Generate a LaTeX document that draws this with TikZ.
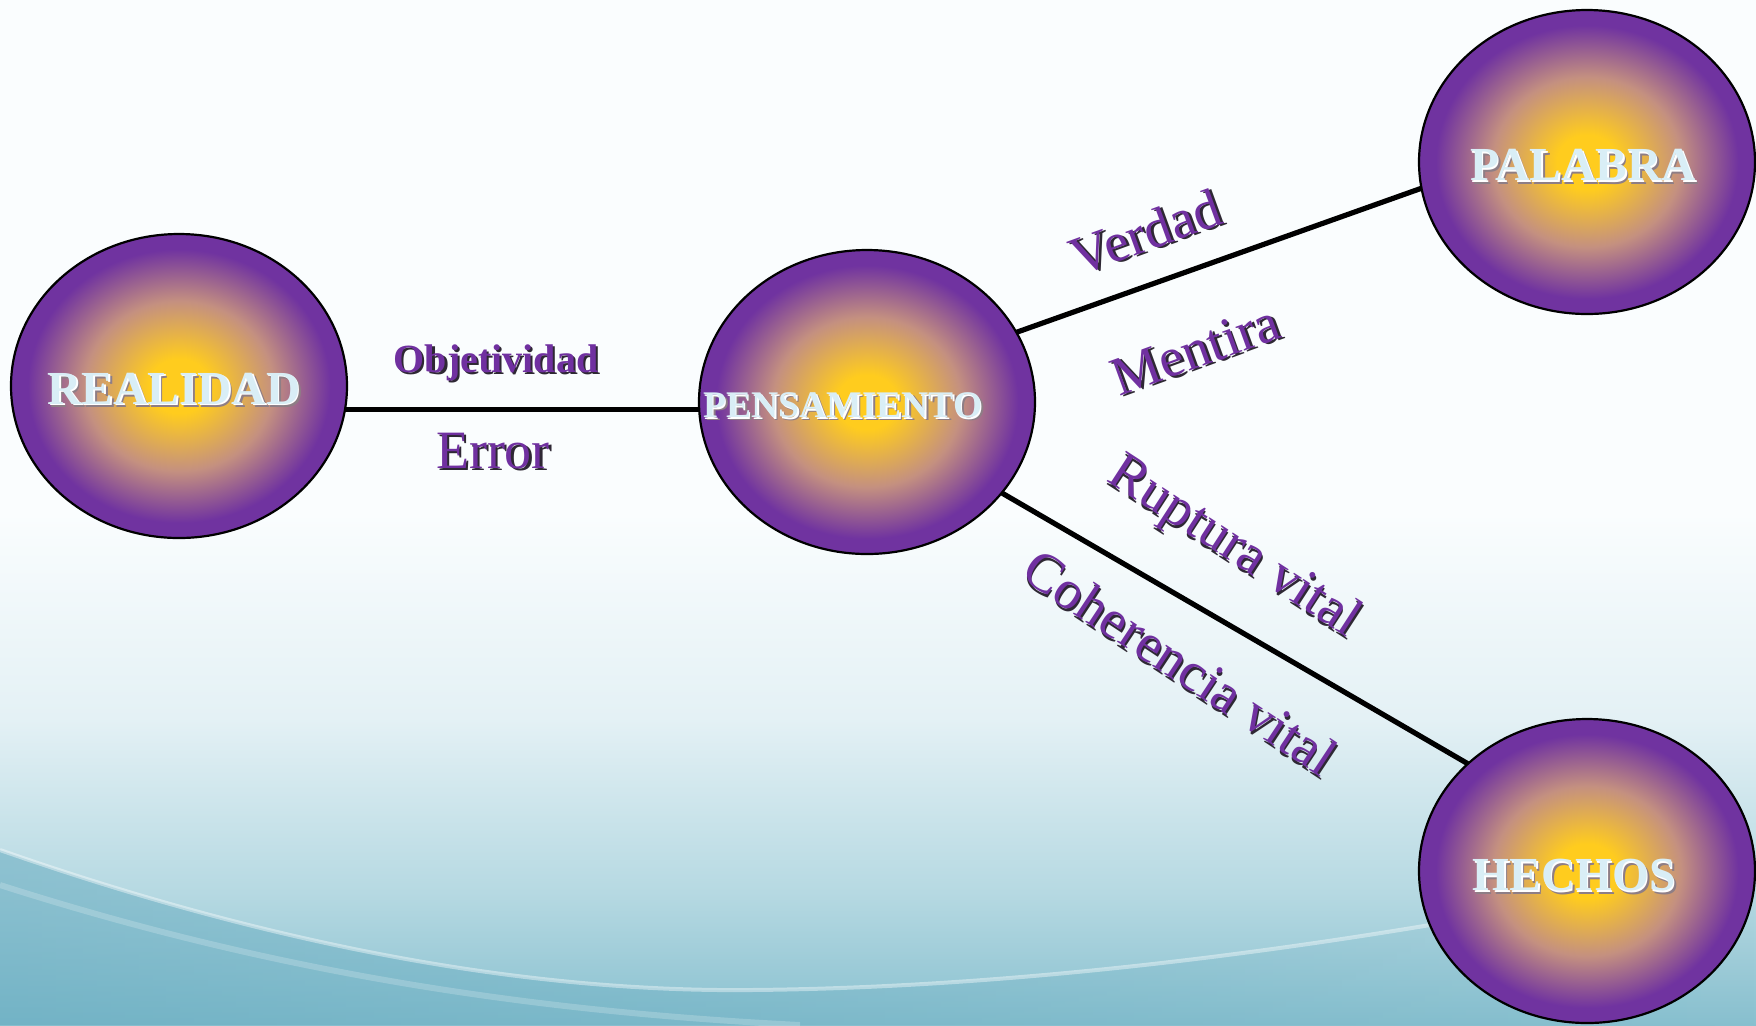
\documentclass[tikz,border=0pt]{standalone}
\usepackage{fontspec}
\setmainfont{Liberation Serif}
\usetikzlibrary{fadings,shapes.geometric}
\definecolor{orbY}{HTML}{FFCC1E}
\definecolor{orbP}{HTML}{7033A0}
\definecolor{orbM}{HTML}{C49080}
\definecolor{labP}{HTML}{7030A0}
\definecolor{labSh}{HTML}{2E2834}
\definecolor{nodeTxt}{HTML}{D9EEF6}
\definecolor{nodeSh}{HTML}{8E7E86}
\definecolor{bgTop}{HTML}{FAFDFE}
\definecolor{bgMid}{HTML}{E4F1F5}
\definecolor{bgLow}{HTML}{B6D9E2}
\definecolor{bgBot}{HTML}{88C0CF}
\definecolor{bgDeep}{HTML}{5DA6BC}
\pgfdeclareradialshading{orb}{\pgfpoint{0bp}{0bp}}{color(0bp)=(orbY); color(4.5bp)=(orbY); color(14bp)=(orbM); color(22.5bp)=(orbP); color(50bp)=(orbP)}
\pgfdeclareverticalshading{bgshade}{100bp}{color(0bp)=(bgBot); color(25bp)=(bgBot); color(31.5bp)=(bgLow); color(40bp)=(bgMid); color(50bp)=(bgTop); color(100bp)=(bgTop)}
\newcommand\purpsh[1]{\rlap{\kern1.1pt\raisebox{-1.1pt}{\color{labSh}#1}}{\color{labP}#1}}
\newcommand\orbsh[1]{\rlap{\kern1.6pt\raisebox{-1.6pt}{\color{nodeSh}#1}}\rlap{\kern0.8pt\raisebox{-0.8pt}{\color{white}#1}}{\color{nodeTxt}#1}}
\tikzset{
  orbnode/.style={ellipse, shading=orb, draw=black, line width=1.1pt,
    minimum width=168pt, minimum height=152pt, inner sep=0pt, outer sep=0pt},
  orbtxt/.style={inner sep=0pt, font=\bfseries\fontsize{23.7}{28}\selectfont},
  edgetxt/.style={inner sep=0pt, font=\fontsize{27.5}{32}\selectfont},
  link/.style={draw=black, line width=2.6pt}
}
\begin{document}
\begin{tikzpicture}[x=0.5pt,y=-0.5pt]
\useasboundingbox (0,0) rectangle (1756,1025);
% background
\shade[shading=bgshade] (0,0) rectangle (1756,1025);
\fill[bgDeep, path fading=east, fill opacity=0.5]
  (0,850) .. controls (300,955) and (550,992) .. (750,990)
  .. controls (1000,988) and (1250,955) .. (1430,925)
  -- (1756,870) -- (1756,1025) -- (0,1025) -- cycle;
\draw[white, opacity=0.4, line width=2pt] (0,850) .. controls (300,955) and (550,992) .. (750,990)
  .. controls (1000,988) and (1250,955) .. (1430,925);
\draw[white, opacity=0.2, line width=3pt] (0,885) .. controls (250,965) and (500,1010) .. (800,1025);
% orbs
\node[orbnode] (r) at (179,386) {};
\node[orbnode] (p) at (867,402) {};
\node[orbnode] (w) at (1587,162) {};
\node[orbnode] (h) at (1587,871) {};
% connectors
\draw[link] (r.-8) -- (r.-8 -| p.west);
\draw[link] (p.25.3) -- (w.189.6);
\draw[link] (p.-34.3) -- (h.138.8);
% orb labels
\node[orbtxt] (rt) at (174,390) {\orbsh{REALIDAD}};
\node[orbtxt, font=\bfseries\fontsize{18.8}{22}\selectfont] (pt) at (843,407) {\orbsh{PENSAMIENTO}};
\node[orbtxt] (wt) at (1583,167) {\orbsh{PALABRA}};
\node[orbtxt] (ht) at (1574,877) {\orbsh{HECHOS}};
% edge labels
\node[edgetxt, font=\bfseries\fontsize{20}{24}\selectfont] (l1) at (496,364) {\purpsh{Objetividad}};
\node[edgetxt, font=\fontsize{27}{31}\selectfont] (l2) at (493,452) {\purpsh{Error}};
\node[edgetxt, rotate=20] (l3) at (1146,233) {\purpsh{Verdad}};
\node[edgetxt, rotate=20] (l4) at (1196,351) {\purpsh{Mentira}};
\node[edgetxt, rotate=-33] (l5) at (1233,549) {\purpsh{Ruptura vital}};
\node[edgetxt, rotate=-33.5] (l6) at (1180,663) {\purpsh{Coherencia vital}};
\end{tikzpicture}
\end{document}
